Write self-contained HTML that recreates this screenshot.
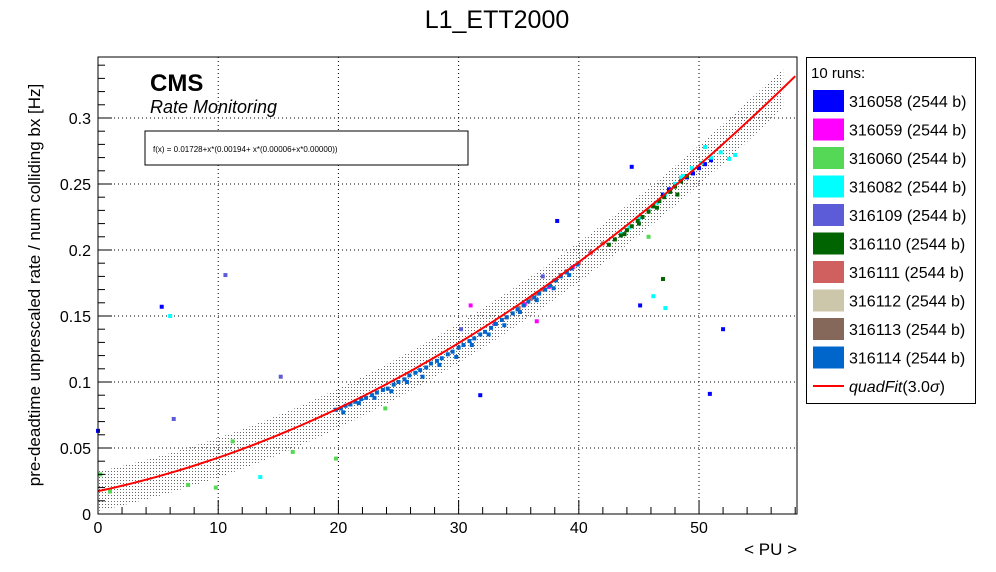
<!DOCTYPE html>
<html><head><meta charset="utf-8"><style>
html,body{margin:0;padding:0;background:#fff;}
svg{display:block;font-family:"Liberation Sans",sans-serif;}
</style></head><body>
<svg id="c" width="996" height="572" viewBox="0 0 996 572">
<defs>
<pattern id="dots" width="3" height="3" patternUnits="userSpaceOnUse"><rect x="0" y="0" width="1" height="1" fill="#666"/></pattern>
</defs>
<text x="497" y="28" text-anchor="middle" font-size="25">L1_ETT2000</text>
<g id="plot"></g>
<rect x="98" y="57" width="699" height="457" fill="none" stroke="#000"/>
<text x="150" y="91" font-size="24" font-weight="bold">CMS</text>
<text x="150" y="113" font-size="18" font-style="italic">Rate Monitoring</text>
<rect x="145" y="131" width="323" height="34" fill="#fff" stroke="#000"/>
<text x="153" y="152" font-size="8">f(x) = 0.01728+x*(0.00194+ x*(0.00006+x*0.00000))</text>
<text x="797" y="555" text-anchor="end" font-size="17">&lt; PU &gt;</text>
<text transform="translate(40,285) rotate(-90)" text-anchor="middle" font-size="17">pre-deadtime unprescaled rate / num colliding bx [Hz]</text>
<g id="legend"></g>
</svg>
<script>
const xTicks=[0,10,20,30,40,50];
const yTicks=[0,0.05,0.1,0.15,0.2,0.25,0.3];
const yTickLabels=["0","0.05","0.1","0.15","0.2","0.25","0.3"];
const fitCoef=[0.01728,0.00194,0.00006];
const bandHalfWidth=0.015;
const runNames=["316058 (2544 b)","316059 (2544 b)","316060 (2544 b)","316082 (2544 b)","316109 (2544 b)","316110 (2544 b)","316111 (2544 b)","316112 (2544 b)","316113 (2544 b)","316114 (2544 b)"];
const runColors=["#0000ff","#ff00ff","#55d855","#00ffff","#5c5cd8","#006400","#d06060","#ccc6aa","#86685a","#0066cc"];
const pu114=[19.8,20.2,20.6,21.0,21.4,21.9,22.3,22.8,23.2,23.7,24.1,24.6,25.0,25.5,25.9,26.4,26.8,27.3,27.7,28.2,28.6,29.1,29.5,30.0,30.4,30.9,31.3,31.8,32.2,32.7,33.1,33.6,34.0,34.5,34.9,35.4,35.8,36.3,36.7,37.2,37.6,38.1,38.5,39.0,39.4,39.9,20.4,21.7,23.0,24.4,25.7,27.0,28.4,29.8,31.1,32.5,33.8,35.1,36.5,37.9,39.2];
const rate114=[0.079,0.080,0.082,0.083,0.085,0.087,0.088,0.090,0.092,0.094,0.095,0.098,0.100,0.102,0.105,0.107,0.109,0.111,0.114,0.116,0.118,0.121,0.123,0.126,0.128,0.131,0.133,0.136,0.138,0.141,0.144,0.147,0.149,0.152,0.155,0.158,0.161,0.164,0.167,0.170,0.173,0.177,0.180,0.183,0.186,0.189,0.077,0.084,0.088,0.093,0.100,0.104,0.113,0.119,0.128,0.136,0.143,0.153,0.162,0.171,0.181];
const pu110=[42.5,43.0,43.5,44.0,44.4,44.9,45.3,45.8,46.2,46.7,47.1,47.6,48.0,48.5,49.0,43.8,45.0,46.5,48.2,47.0];
const rate110=[0.204,0.208,0.211,0.215,0.218,0.222,0.225,0.229,0.233,0.237,0.240,0.244,0.248,0.252,0.256,0.212,0.220,0.232,0.242,0.178];
const pu082=[43.5,44.2,45.0,45.8,46.5,47.2,48.0,48.7,49.4,50.2,51.0,51.8,52.5,53.0,46.2,48.5,50.5,47.2,13.5,6.0];
const rate082=[0.212,0.217,0.224,0.230,0.236,0.242,0.250,0.256,0.262,0.266,0.270,0.274,0.269,0.272,0.165,0.255,0.278,0.156,0.028,0.150];
const pu058=[47.0,47.5,48.0,48.5,49.0,49.5,50.0,50.5,51.0,45.1,44.4,52.0,5.3,0,50.9,31.8,38.2];
const rate058=[0.242,0.246,0.250,0.253,0.255,0.258,0.262,0.265,0.268,0.158,0.263,0.140,0.157,0.063,0.091,0.090,0.222];
const pu111=[34.0,35.0,36.0,37.0,38.0,39.0,40.0,41.0,42.0,36.5,38.5];
const rate111=[0.149,0.156,0.163,0.170,0.177,0.184,0.190,0.198,0.205,0.167,0.181];
const pu059=[33.0,35.5,37.5,39.5,41.0,36.5,31.0];
const rate059=[0.144,0.159,0.172,0.187,0.198,0.146,0.158];
const pu060=[19.8,1.0,7.5,9.8,11.2,16.2,45.8,23.9,0.2];
const rate060=[0.042,0.017,0.022,0.020,0.055,0.047,0.210,0.080,0.030];
const pu109=[10.6,15.2,6.3,30.2,37.0];
const rate109=[0.181,0.104,0.072,0.140,0.180];
const series=[[pu058,rate058,0],[pu059,rate059,1],[pu060,rate060,2],[pu082,rate082,3],[pu109,rate109,4],[pu110,rate110,5],[pu111,rate111,6],[pu114,rate114,9]];

const X0=98,X1=797,Y0=514,Y1=57,XMAX=58.15,YMAX=0.3462;
const sx=v=>X0+v/XMAX*(X1-X0);
const sy=v=>Y0-v/YMAX*(Y0-Y1);
const fit=x=>fitCoef[0]+x*(fitCoef[1]+x*fitCoef[2]);
const NS="http://www.w3.org/2000/svg";
const plot=document.getElementById('plot');
function mk(tag,attrs,parent){const e=document.createElementNS(NS,tag);for(const k in attrs)e.setAttribute(k,attrs[k]);(parent||plot).appendChild(e);return e;}

xTicks.forEach(t=>{if(t>0){const g=mk('line',{x1:sx(t),x2:sx(t),y1:Y1,y2:Y0,stroke:'#000','stroke-dasharray':'1,3'});

}});
yTicks.forEach(t=>{if(t>0){const g=mk('line',{x1:X0,x2:X1,y1:sy(t),y2:sy(t),stroke:'#000','stroke-dasharray':'1,3'});

}});

let up=[],dn=[];
for(let i=0;i<=57;i+=0.5){up.push(sx(i)+','+sy(fit(i)+bandHalfWidth));dn.unshift(sx(i)+','+sy(fit(i)-bandHalfWidth));}
const band=mk('polygon',{points:up.concat(dn).join(' '),fill:'url(#dots)',stroke:'none'});



series.forEach(s=>{s[0].forEach((p,i)=>{const r=mk('rect',{x:sx(p)-2,y:sy(s[1][i])-2,width:4,height:4,fill:runColors[s[2]]});

});});

let fp=[];for(let i=0;i<=XMAX;i+=0.5)fp.push(sx(i)+','+sy(fit(i)));
const fl=mk('polyline',{points:fp.join(' '),fill:'none',stroke:'#ff0000','stroke-width':2});



for(let t=0;t<=XMAX;t+=2){const big=t%10===0;mk('line',{x1:sx(t),x2:sx(t),y1:Y0,y2:Y0-(big?14:7),stroke:'#000'});}
for(let t=0;t<=YMAX+1e-9;t+=0.01){const big=Math.round(t*100)%5===0;mk('line',{x1:X0,x2:X0+(big?14:7),y1:sy(t),y2:sy(t),stroke:'#000'});}
xTicks.forEach(t=>{const l=mk('text',{x:sx(t),y:533,'text-anchor':'middle','font-size':16});l.textContent=t;

});
yTicks.forEach((t,i)=>{const l=mk('text',{x:91,y:sy(t)+6,'text-anchor':'end','font-size':16});l.textContent=yTickLabels[i];

});

const lg=document.getElementById('legend');
mk('rect',{x:806.5,y:57.5,width:169,height:346,fill:'#fff',stroke:'#000'},lg);
const h=mk('text',{x:811,y:78,'font-size':15},lg);h.textContent='10 runs:';
runNames.forEach((n,i)=>{const y=101+i*28.5;
const sw=mk('rect',{x:813,y:y-11,width:31,height:22,fill:runColors[i]},lg);


const t=mk('text',{x:849,y:y+6,'font-size':16},lg);t.textContent=n;

});
const fy=101+10*28.5;
mk('line',{x1:813,x2:844,y1:fy,y2:fy,stroke:'#ff0000','stroke-width':2},lg);
const ft=mk('text',{x:849,y:fy+6,'font-size':16},lg);
ft.innerHTML='<tspan font-style="italic">quadFit</tspan>(3.0<tspan font-style="italic">σ</tspan>)';


</script>
</body></html>
